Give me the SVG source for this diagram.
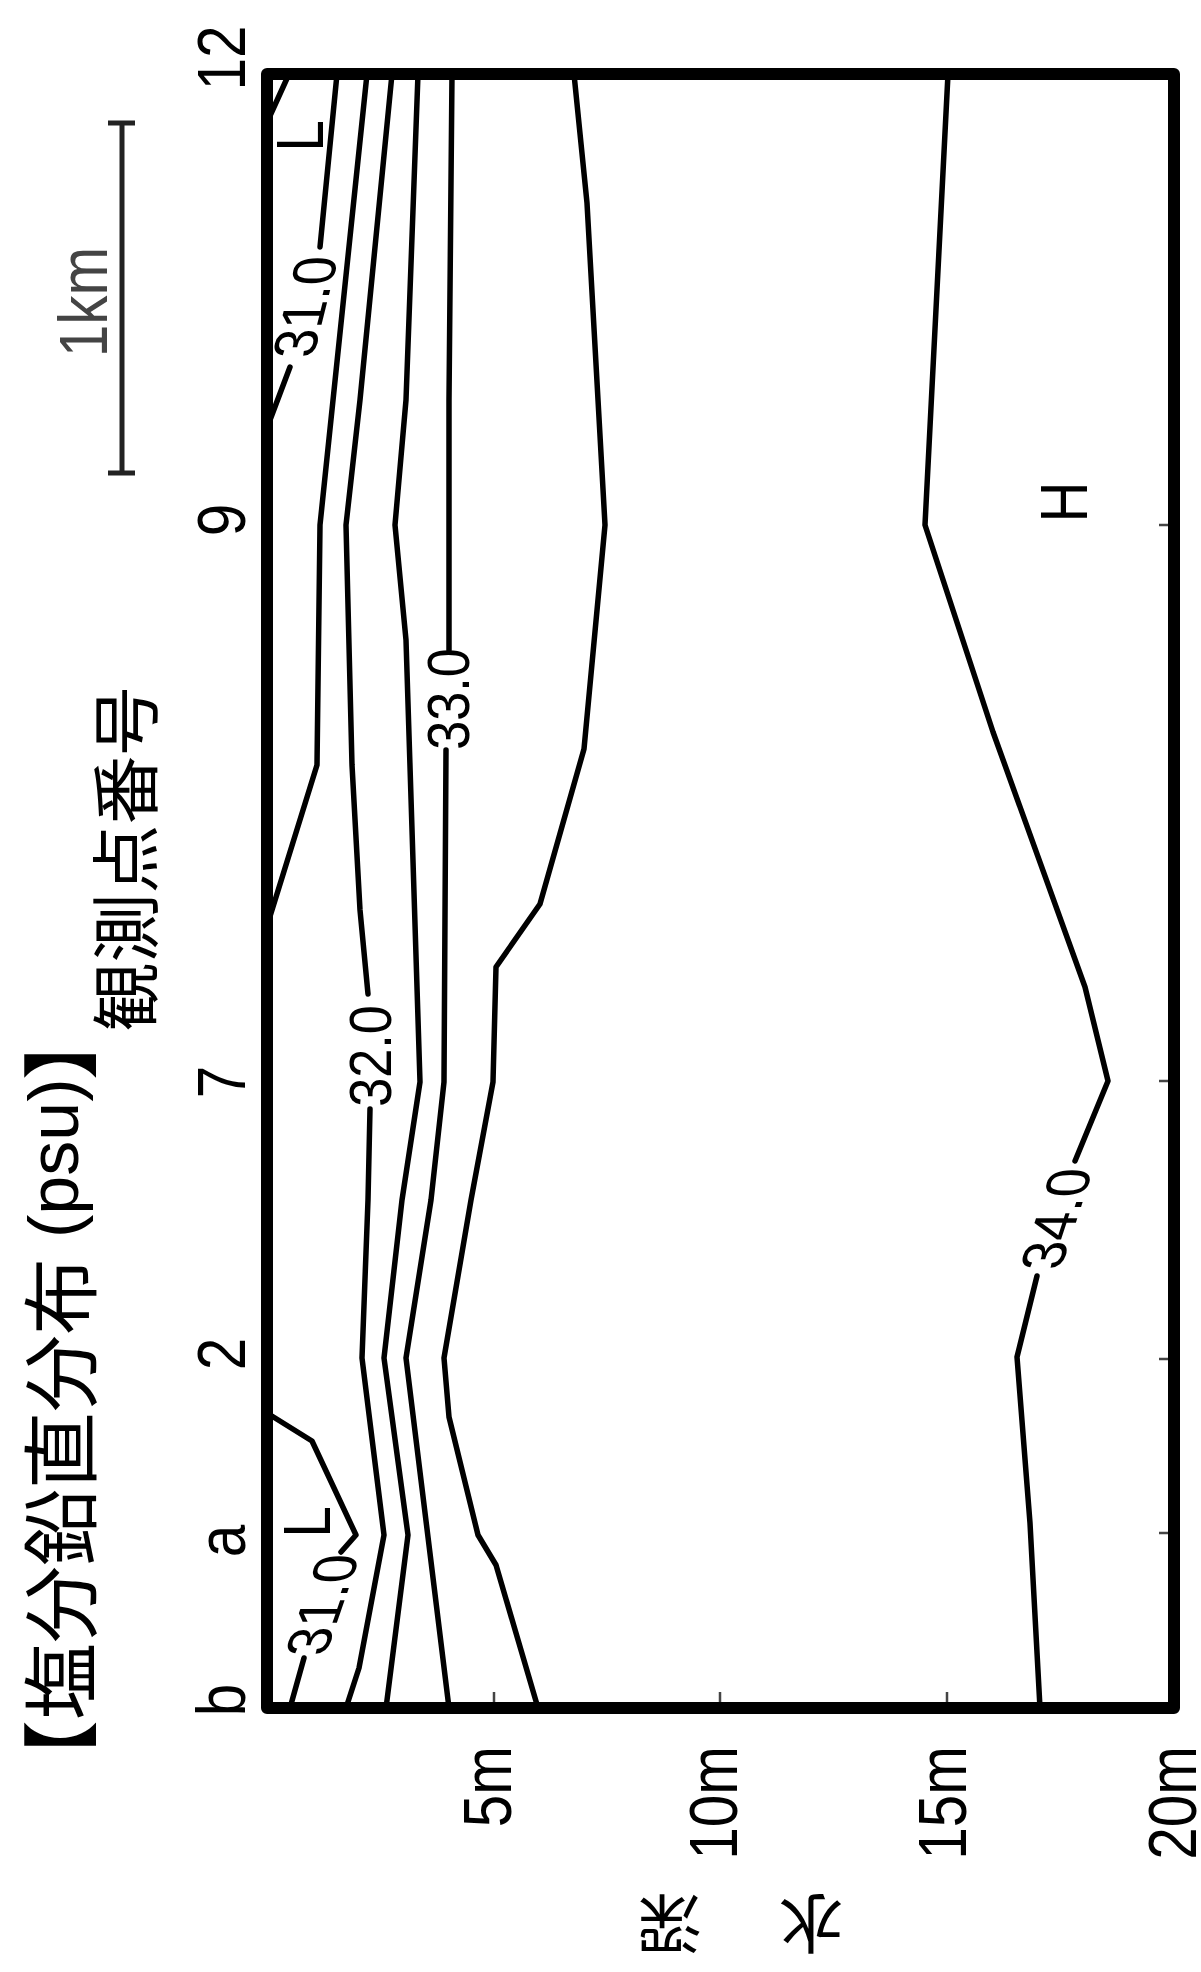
<svg xmlns="http://www.w3.org/2000/svg" width="1201" height="1972" viewBox="0 0 1201 1972">
<style>
.lat{font-family:"Liberation Sans",Arial,sans-serif;fill:#000}
.cjk{font-family:"Noto Sans CJK JP","Noto Sans CJK SC",sans-serif;fill:#000}
.tick{font-size:68px;text-anchor:middle}
.dep{font-size:68px;text-anchor:end}
.clab{font-size:60px;text-anchor:middle}
.mark{font-size:66px;text-anchor:middle}
.ct{fill:none;stroke:#000;stroke-width:5.5;stroke-linejoin:round;stroke-linecap:round}
.tk{stroke:#444;stroke-width:2.5;fill:none}
</style>
<rect width="1201" height="1972" fill="#fff"/>

<g id="title">
<text class="cjk" transform="rotate(-90)" font-size="77"><tspan x="-1797" y="90">【塩分鉛直分布</tspan><tspan class="lat" x="-1238" y="78" font-size="70">(psu)</tspan><tspan x="-1080" y="90">】</tspan></text>
</g>

<g id="station-axis-title">
<text class="cjk" font-size="69" text-anchor="middle" transform="translate(152,859) rotate(-90)">観測点番号</text>
</g>

<g id="depth-axis-title">
<text class="cjk" font-size="64" text-anchor="middle" transform="translate(741,1924) rotate(180)" y="24"><tspan x="-70">水</tspan><tspan x="71">深</tspan></text>
</g>

<g id="scale-bar">
<path d="M122,123 V473 M108,123 H135 M108,473 H135" stroke="#222" stroke-width="5" fill="none"/>
<text class="lat tick" style="fill:#444" transform="translate(107,302) rotate(-90) scale(0.86,1)">1km</text>
</g>

<g id="station-labels">
<text class="lat tick" transform="translate(245,58) rotate(-90) scale(0.86,1)">12</text>
<text class="lat tick" transform="translate(245,520) rotate(-90) scale(0.86,1)">9</text>
<text class="lat tick" transform="translate(245,1082) rotate(-90) scale(0.86,1)">7</text>
<text class="lat tick" transform="translate(245,1354) rotate(-90) scale(0.86,1)">2</text>
<text class="lat tick" transform="translate(245,1541) rotate(-90) scale(0.86,1)">a</text>
<text class="lat tick" transform="translate(245,1700) rotate(-90) scale(0.86,1)">b</text>
</g>

<g id="depth-labels">
<text class="lat dep" transform="translate(511,1746) rotate(-90) scale(0.86,1)">5m</text>
<text class="lat dep" transform="translate(737,1746) rotate(-90) scale(0.86,1)">10m</text>
<text class="lat dep" transform="translate(966,1746) rotate(-90) scale(0.86,1)">15m</text>
<text class="lat dep" transform="translate(1196,1746) rotate(-90) scale(0.86,1)">20m</text>
</g>

<g id="contours">
<path class="ct" d="M289,74 L269,118"/>
<path class="ct" d="M337,74 L320,247 M290,367 L267,428"/>
<path class="ct" d="M367,74 L320,525 L317,765 L272,910 L267,926"/>
<path class="ct" d="M392,74 L360,400 L346,525 L352,765 L360,910 L368,994 M370,1109 L368,1200 L362,1358 L384,1535 L359,1668 L346,1708"/>
<path class="ct" d="M418,74 L406,400 L395,525 L406,640 L420,1082 L402,1200 L384,1358 L408,1535 L386,1708"/>
<path class="ct" d="M452,74 L449,400 L449,650 M446,750 L444,1082 L431,1200 L406,1358 L449,1708"/>
<path class="ct" d="M574,74 L587,203 L605,525 L584,749 L540,904 L496,967 L493,1082 L471,1200 L444,1358 L449,1417 L478,1535 L496,1565 L538,1708"/>
<path class="ct" d="M948,74 L925,525 L993,732 L1085,987 L1108,1081 L1075,1161 M1037,1276 L1017,1357 L1030,1523 L1040,1708"/>
<path class="ct" d="M267,1413 L312,1441 L356,1535 L341,1552 M304,1658 L290,1708"/>
</g>

<g id="contour-labels">
<text class="lat clab" transform="translate(305,307) rotate(-90) skewY(14) scale(0.87,1)" y="21">31.0</text>
<text class="lat clab" transform="translate(370,1056) rotate(-90) scale(0.87,1)" y="21">32.0</text>
<text class="lat clab" transform="translate(448,699) rotate(-90) scale(0.87,1)" y="21">33.0</text>
<text class="lat clab" transform="translate(1056,1219) rotate(-90) skewY(18) scale(0.87,1)" y="21">34.0</text>
<text class="lat clab" transform="translate(322,1605) rotate(-90) skewY(19) scale(0.87,1)" y="21">31.0</text>
</g>

<g id="extrema">
<text class="lat mark" transform="translate(323,136) rotate(-90) scale(0.86,1)">L</text>
<text class="lat mark" transform="translate(330,1522) rotate(-90) scale(0.86,1)">L</text>
<text class="lat mark" transform="translate(1087,502) rotate(-90) scale(0.86,1)">H</text>
</g>

<g id="frame">
<path class="tk" d="M1168,525 h-9 M1168,1081 h-9 M1168,1359 h-9 M1168,1533 h-9 M494,1702 v-10 M720,1702 v-10 M947,1702 v-10"/>
<rect x="267" y="74" width="907" height="1634" fill="none" stroke="#000" stroke-width="12" stroke-linejoin="round"/>
</g>
</svg>
